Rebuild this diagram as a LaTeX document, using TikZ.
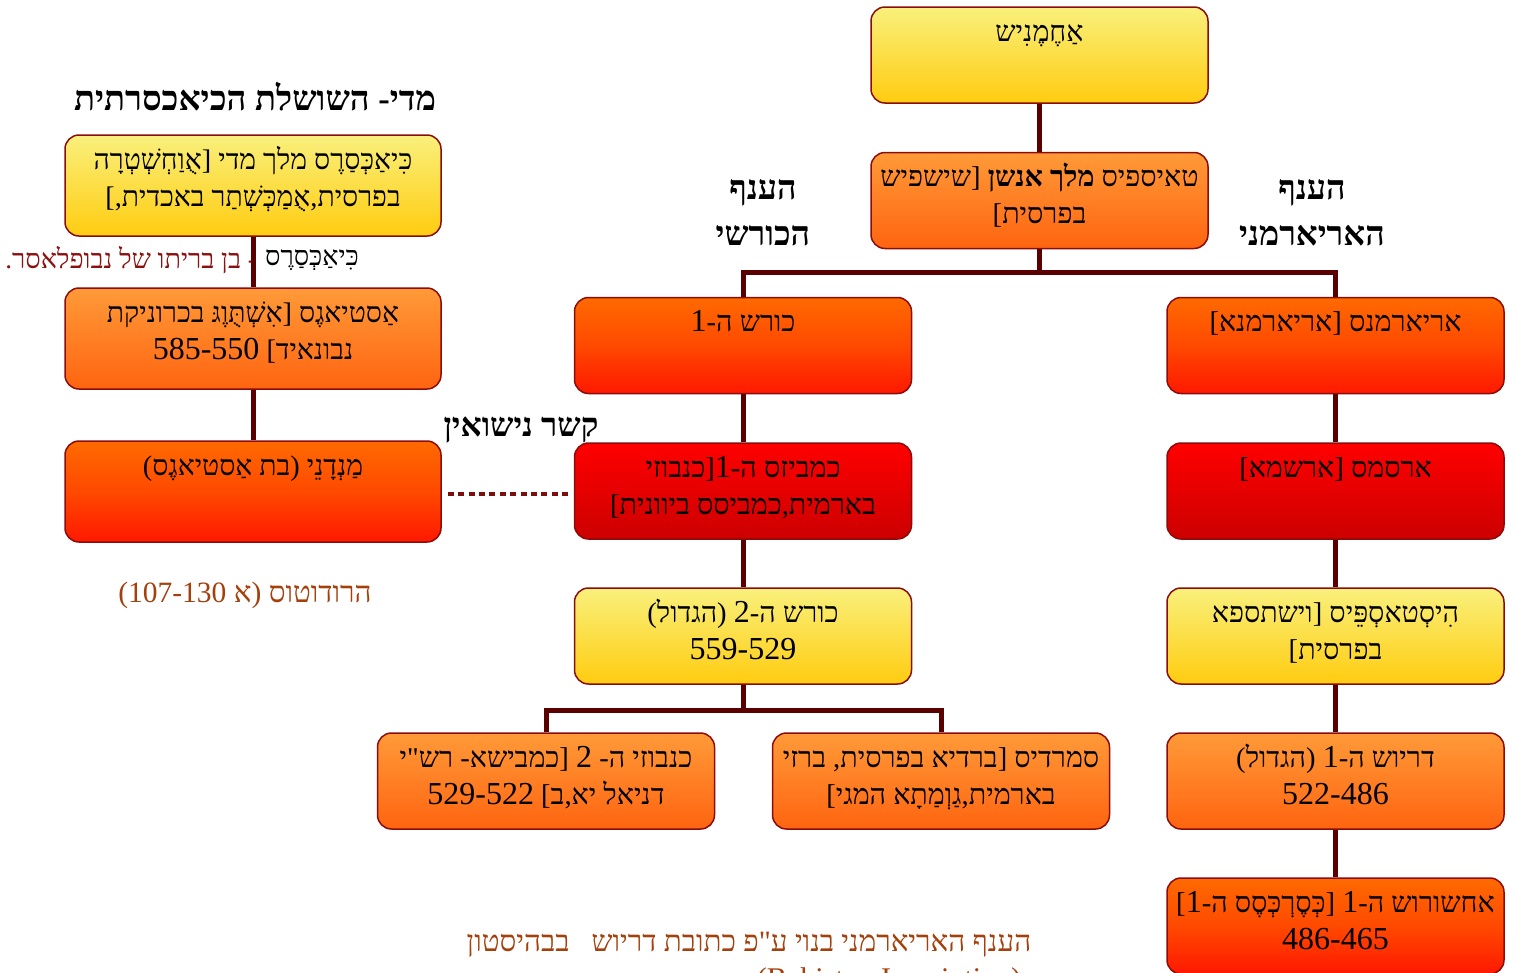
\documentclass[tikz,border=0pt]{standalone}
\usepackage{fontspec}
\setmainfont{Liberation Serif}
\newfontfamily\heb[Script=Hebrew]{Liberation Serif}
\TeXXeTstate=1
\newcommand{\dg}[1]{{\fontsize{32}{37}\selectfont #1}}
\definecolor{connc}{HTML}{5A0000}
\definecolor{bordc}{HTML}{8A0C0C}
\definecolor{yelA}{HTML}{F9F07C}
\definecolor{yelB}{HTML}{FFCC10}
\definecolor{oraA}{HTML}{FF9A38}
\definecolor{oraB}{HTML}{FF6410}
\definecolor{orrA}{HTML}{FF6A00}
\definecolor{orrB}{HTML}{FF1800}
\definecolor{redA}{HTML}{FF0000}
\definecolor{redB}{HTML}{CC0000}
\definecolor{annred}{HTML}{8B1010}
\definecolor{brownc}{HTML}{A3400C}
\tikzset{
  box/.style={draw=bordc, line width=1.5pt, rounded corners=14pt, minimum width=337pt, minimum height=96pt,
    inner sep=0pt, align=center, text height=55pt, text depth=9pt,
    font=\heb\fontsize{28.6}{37}\selectfont},
  lbox/.style={box, minimum width=376pt, minimum height=101pt, text depth=14pt, font=\heb\fontsize{28.3}{37}\selectfont},
  ybox/.style={top color=yelA, bottom color=yelB},
  obox/.style={top color=oraA, bottom color=oraB},
  rbox/.style={top color=orrA, bottom color=orrB, middle color=orrA!60!orrB},
  redbox/.style={top color=redA, bottom color=redB},
  conn/.style={draw=connc, line width=5pt},
  hd/.style={font=\heb\bfseries\fontsize{34}{46}\selectfont, align=center, inner sep=0pt},
  plain/.style={font=\heb\fontsize{29.5}{34}\selectfont, inner sep=0pt},
}
\begin{document}
\begin{tikzpicture}[x=1pt,y=-1pt]
\useasboundingbox (0,0) rectangle (1515,972);
% right tree
\node[box,ybox] (ach) at (1039.5,55) {\beginR אַחֶמֶנִיש\endR\\\mbox{}};
\node[box,obox] (tei) at (1039.5,200.5) {\beginR טאיספיס \textbf{מלך אנשן} [שישפיש\endR\\\beginR בפרסית]\endR};
\node[box,rbox] (cy1) at (743,345.5) {\beginR כורש ה-\dg{1}\endR\\\mbox{}};
\node[box,rbox] (ari) at (1335.5,345.5) {\beginR אריארמנס [אריארמנא]\endR\\\mbox{}};
\node[box,redbox] (cam1) at (743,491) {\beginR כמביזס ה-\dg{1}[כנבוזי\endR\\\beginR בארמית,כמביסס ביוונית]\endR};
\node[box,redbox] (ars) at (1335.5,491) {\beginR ארסמס [ארשמא]\endR\\\mbox{}};
\node[box,ybox] (cy2) at (743,636) {\beginR כורש ה-\dg{2} (הגדול)\endR\\\beginR \dg{559-529}\endR};
\node[box,ybox] (hys) at (1335.5,636) {\beginR הִיסְטאסְפֵּיס [וישתספא\endR\\\beginR בפרסית]\endR};
\node[box,obox] (cam2) at (546,781) {\beginR כנבוזי ה- \dg{2} [כמבישא- רש"י\endR\\\beginR דניאל יא,ב] \dg{529-522}\endR};
\node[box,obox] (sme) at (941,781) {\beginR סמרדיס [ברדיא בפרסית, ברזי\endR\\\beginR בארמית,גַוְמַתָא המגי]\endR};
\node[box,obox] (dar) at (1335.5,781) {\beginR דריוש ה-\dg{1} (הגדול)\endR\\\beginR \dg{522-486}\endR};
\node[box,rbox] (xer) at (1335.5,926) {\beginR אחשורוש ה-\dg{1} [כְּסֶרְכְּסֶס ה-\dg{1}]\endR\\\beginR \dg{486-465}\endR};
% left tree
\node[box,lbox,ybox] (cyx) at (253,185.5) {\beginR כִּיאַכְּסַרֶס מלך מדי [אֻוַחְשְׁטְרָה\endR\\\beginR בפרסית,אֻמַכְּשְׁתַר באכדית,]\endR};
\node[box,lbox,obox] (ast) at (253,338.5) {\beginR אַסטיאגֶס [אִשְׁתֻּוֶגּ בכרוניקת\endR\\\beginR נבונאיד] \dg{585-550}\endR};
\node[box,lbox,rbox] (man) at (253,491.5) {\beginR מַנְדָנֵי (בת אַסטיאגֶס)\endR\\\mbox{}};
% labels
\node[hd, font=\heb\bfseries\fontsize{34.5}{46}\selectfont] (title) at (255,97) {\beginR מדי- השושלת הכיאכסרתית\endR};
\node[hd] (kbr) at (763,213) {\beginR הענף\endR\\\beginR הכורשי\endR};
\node[hd] (abr) at (1312,213) {\beginR הענף\endR\\\beginR האריארמני\endR};
\node[hd, font=\heb\bfseries\fontsize{33}{46}\selectfont] (marr) at (521,430) {\beginR קשר נישואין\endR};
\node[plain, font=\heb\fontsize{27}{30}\selectfont, anchor=west] (ann1) at (265,260) {\beginR כִּיאַכְּסַרֶס\endR};
\node[plain, font=\heb\fontsize{27}{30}\selectfont, text=annred, anchor=east] (ann2) at (257,260) {\beginR - בן בריתו של נבופלאסר.\endR};
\node[plain, text=brownc] (herod) at (245,595) {\beginR הרודוטוס (א 107-130)\endR};
\node[plain, text=brownc] (foot) at (749,945) {\beginR הענף האריארמני בנוי ע"פ כתובת דריוש \ \ בבהיסטון\endR};
\node[plain, font=\fontsize{30}{34}\selectfont, text=brownc, anchor=base] (foot2) at (889,988) {(Behistun Inscription)};
% connectors
\coordinate (j1) at (1039.5,272);
\coordinate (j2) at (743,710);
\draw[conn] (ach.south) -- (tei.north);
\draw[conn] (tei.south) -- (j1);
\draw[conn] (cy1.north) |- (j1) -| (ari.north);
\draw[conn] (cy1.south) -- (cam1.north);
\draw[conn] (cam1.south) -- (cy2.north);
\draw[conn] (cy2.south) -- (j2);
\draw[conn] (cam2.north) |- (j2) -| (sme.north);
\draw[conn] (ari.south) -- (ars.north);
\draw[conn] (ars.south) -- (hys.north);
\draw[conn] (hys.south) -- (dar.north);
\draw[conn] (dar.south) -- (xer.north);
\draw[conn] (cyx.south) -- (ast.north);
\draw[conn] (ast.south) -- (man.north);
\draw[draw=annred!90!black, line width=4pt, dash pattern=on 6pt off 4.4pt]
  ([xshift=6pt,yshift=-2.5pt]man.east) -- ([xshift=-4pt,yshift=-3pt]cam1.west);
\end{tikzpicture}
\end{document}
